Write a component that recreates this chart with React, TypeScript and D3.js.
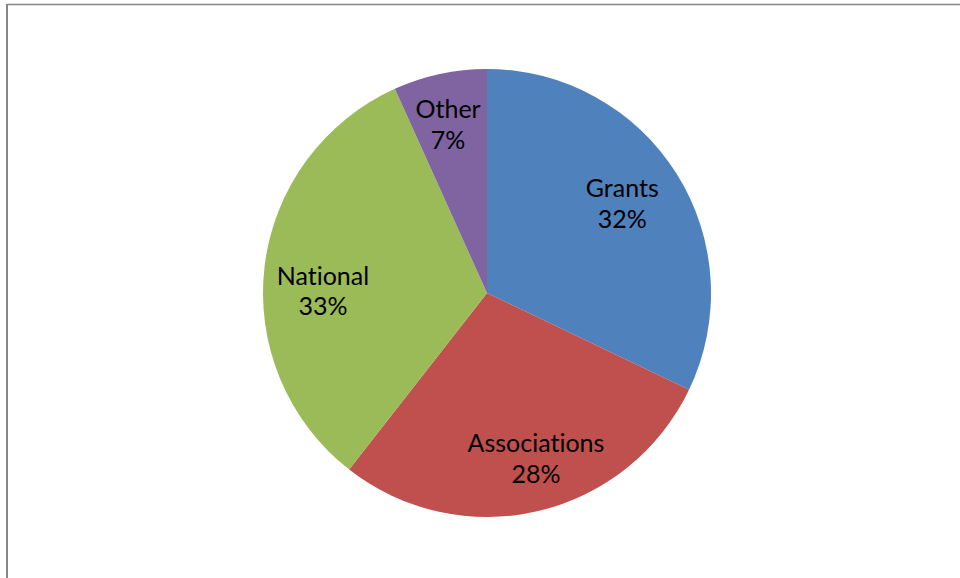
import React, { useEffect, useRef } from "react";
import * as d3 from "d3";

const categories = ["Grants", "Associations", "National", "Other"];
const values = [32.1, 28.45, 32.7, 6.75];
const colors = ["#4F81BD", "#C0504D", "#9BBB59", "#8064A2"];

const W = 960;
const H = 578;

export default function App() {
  const ref = useRef<SVGSVGElement | null>(null);

  useEffect(() => {
    document.body.style.margin = "0";
    const svg = d3.select(ref.current);
    svg.selectAll("*").remove();

    svg.append("rect").attr("width", W).attr("height", H).attr("fill", "#fff");

    // chart area border (only top and left visible)
    svg.append("line").attr("x1", 7).attr("x2", W).attr("y1", 4.5).attr("y2", 4.5)
      .attr("stroke", "#868686").attr("stroke-width", 1.5);
    svg.append("line").attr("x1", 7).attr("x2", 7).attr("y1", 4).attr("y2", H)
      .attr("stroke", "#868686").attr("stroke-width", 2);

    const cx = 487, cy = 293, R = 224;
    const data = categories.map((c, i) => ({ name: c, value: values[i], color: colors[i] }));
    const total = d3.sum(values);
    const pie = d3.pie<any>().value((d: any) => d.value).sort(null);
    const arcs = pie(data);
    const arc = d3.arc<any>().innerRadius(0).outerRadius(R);
    const labelArc = d3.arc<any>().innerRadius(R * 0.74).outerRadius(R * 0.74);
    // best-fit label adjustments (as Excel places them)
    const nudge: Record<string, [number, number]> = {
      Grants: [-5, -1],
      Associations: [11, 4.5],
      National: [0.5, 18],
      Other: [-4, -6],
    };

    const g = svg.append("g").attr("transform", `translate(${cx},${cy})`);
    g.selectAll("path.slice").data(arcs).enter().append("path")
      .attr("class", "slice")
      .attr("d", arc as any)
      .attr("fill", (d: any) => d.data.color);

    const lab = g.selectAll("g.lab").data(arcs).enter().append("g")
      .attr("class", "lab")
      .attr("transform", (d: any) => {
        const [x, y] = labelArc.centroid(d);
        const [nx, ny] = nudge[d.data.name] || [0, 0];
        return `translate(${x + nx},${y + ny})`;
      });
    const style = (t: any) =>
      t.attr("text-anchor", "middle")
        .attr("font-family", "Lato, 'Open Sans', sans-serif")
        .attr("font-size", 25)
        .attr("fill", "#000")
        .style("font-variant-ligatures", "none")
        .style("font-feature-settings", "'liga' 0, 'clig' 0");
    lab.append("text").call(style)
      .attr("y", -6.5)
      .text((d: any) => d.data.name);
    lab.append("text").call(style)
      .attr("y", 24)
      .text((d: any) => `${Math.round((d.data.value / total) * 100)}%`);
  }, []);

  return <svg ref={ref} width={W} height={H} style={{ display: "block" }} />;
}
